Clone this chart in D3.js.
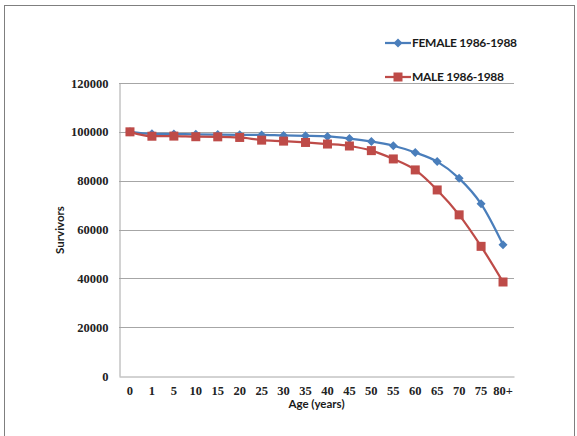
<!DOCTYPE html>
<html>
<head>
<meta charset="utf-8">
<script src="https://cdn.jsdelivr.net/npm/d3@7"></script>
<style>
  html, body { margin: 0; padding: 0; background: #fff; }
  svg { display: block; }
</style>
</head>
<body>
<svg id="chart" width="577" height="436"></svg>
<script>
// Age groups on the category axis
const ages = ["0","1","5","10","15","20","25","30","35","40","45","50","55","60","65","70","75","80+"];
// Survivors out of 100000 live births
const female = [100000,99200,99100,99000,98900,98800,98750,98500,98350,98100,97250,96050,94300,91550,87800,80950,70500,53800];
const male   = [100000,98200,98250,98000,97950,97700,96600,96200,95650,95000,94200,92300,88900,84400,76200,66000,53100,38500];
const yTicks = [0,20000,40000,60000,80000,100000,120000];

const seriesList = [
  { name: "FEMALE 1986-1988", values: female, color: "#4a7ebb", marker: "diamond" },
  { name: "MALE 1986-1988",   values: male,   color: "#be4b48", marker: "square" }
];

const svg = d3.select("#chart");
const plot = { left: 119, right: 514, top: 83, bottom: 376 };

// outer frame
svg.append("rect")
  .attr("x", 4.5).attr("y", 5.5).attr("width", 570).attr("height", 440)
  .attr("fill", "none").attr("stroke", "#7f7f7f").attr("stroke-width", 1);

const x = d3.scaleBand().domain(ages).range([plot.left, plot.right]);
const y = d3.scaleLinear().domain([0, 120000]).range([plot.bottom, plot.top]);

// horizontal gridlines
svg.append("g").selectAll("line").data(yTicks.filter(d => d > 0)).join("line")
  .attr("x1", plot.left).attr("x2", plot.right)
  .attr("y1", d => Math.round(y(d)) + 0.5).attr("y2", d => Math.round(y(d)) + 0.5)
  .attr("stroke", "#a6a6a6").attr("stroke-width", 1);

// y axis
const yAxis = svg.append("g")
  .attr("transform", `translate(${plot.left + 0.5},0)`)
  .call(d3.axisLeft(y).tickValues(yTicks).tickSize(0).tickPadding(11).tickFormat(d3.format("d")));
yAxis.select(".domain").attr("stroke", "#a6a6a6");
yAxis.selectAll("text")
  .attr("font-family", "'Liberation Serif', serif").attr("font-weight", "bold")
  .attr("font-size", "12.5px").attr("fill", "#222");

// x axis
const xAxis = svg.append("g")
  .attr("transform", `translate(0,${plot.bottom + 0.5})`)
  .call(d3.axisBottom(x).tickSize(0).tickPadding(10));
xAxis.select(".domain").attr("stroke", "#a6a6a6");
xAxis.selectAll("text")
  .attr("font-family", "'Liberation Serif', serif").attr("font-weight", "bold")
  .attr("font-size", "12.5px").attr("fill", "#222");

// axis titles
svg.append("text")
  .attr("x", (plot.left + plot.right) / 2).attr("y", 408)
  .attr("text-anchor", "middle")
  .attr("font-family", "Lato, sans-serif").attr("font-weight", "bold")
  .attr("font-size", "11.5px").attr("fill", "#1a1a1a")
  .text("Age (years)");

svg.append("text")
  .attr("transform", "translate(64,230) rotate(-90)")
  .attr("text-anchor", "middle")
  .attr("font-family", "Lato, sans-serif").attr("font-weight", "bold")
  .attr("font-size", "11.5px").attr("fill", "#1a1a1a")
  .text("Survivors");

const line = d3.line()
  .x((d, i) => x(ages[i]) + x.bandwidth() / 2)
  .y(d => y(d))
  .curve(d3.curveMonotoneX);

function drawMarker(g, kind, color, cx, cy) {
  if (kind === "diamond") {
    g.append("path")
      .attr("d", `M${cx},${cy - 4.5}L${cx + 4.5},${cy}L${cx},${cy + 4.5}L${cx - 4.5},${cy}Z`)
      .attr("fill", color);
  } else {
    g.append("rect")
      .attr("x", cx - 4.5).attr("y", cy - 4.5).attr("width", 9).attr("height", 9)
      .attr("fill", color);
  }
}

seriesList.forEach(s => {
  const g = svg.append("g");
  g.append("path").datum(s.values)
    .attr("d", line).attr("fill", "none")
    .attr("stroke", s.color).attr("stroke-width", 2.25);
  s.values.forEach((v, i) => drawMarker(g, s.marker, s.color, x(ages[i]) + x.bandwidth() / 2, y(v)));
});

// legend
const legendRows = [43, 77];
seriesList.forEach((s, i) => {
  const g = svg.append("g");
  const ly = legendRows[i];
  g.append("line").attr("x1", 385).attr("x2", 411).attr("y1", ly).attr("y2", ly)
    .attr("stroke", s.color).attr("stroke-width", 2.25);
  drawMarker(g, s.marker, s.color, 398, ly);
  g.append("text").attr("x", 412).attr("y", ly).attr("dy", "0.36em")
    .attr("font-family", "Lato, sans-serif").attr("font-weight", "bold")
    .attr("font-size", "12px").attr("letter-spacing", "-0.3px").attr("fill", "#1a1a1a")
    .text(s.name);
});
</script>
</body>
</html>
